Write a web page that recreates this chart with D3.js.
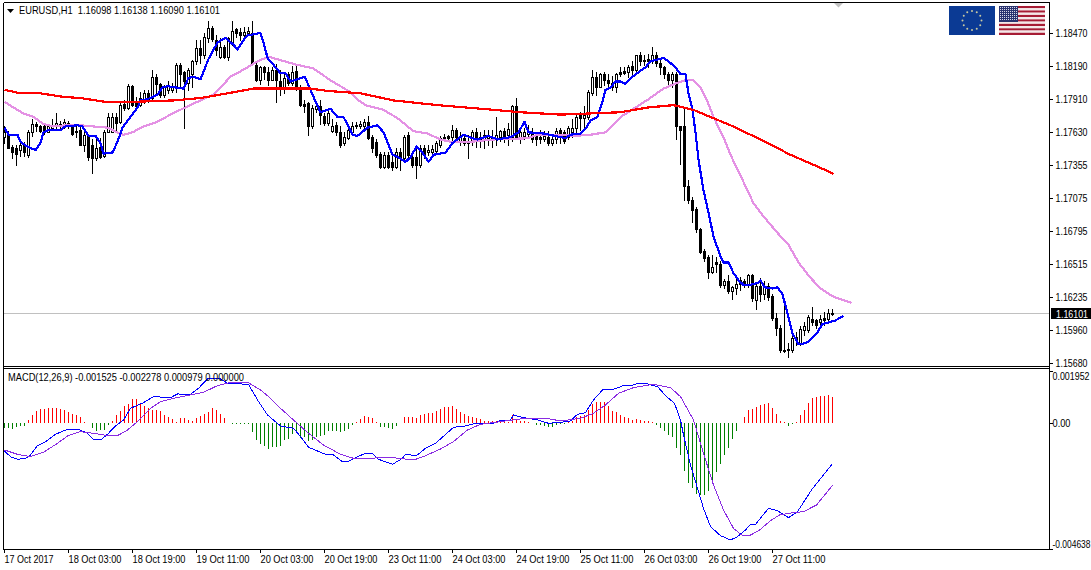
<!DOCTYPE html>
<html><head><meta charset="utf-8">
<script src="https://cdn.jsdelivr.net/npm/d3@7/dist/d3.min.js"></script>
<style>
html,body{margin:0;padding:0;background:#fff;overflow:hidden}
svg{display:block}
text{font-family:"Liberation Sans",sans-serif;font-size:10.5px;fill:#000;white-space:pre}
</style></head><body><svg id="c" width="1091" height="570"></svg>
<script>
// prices are given in pips (price = pips / 10000)
const opens=[11759,11761,11751,11750,11748,11752,11744,11763,11770,11768,
11768,11763,11767,11769,11768,11768,11768,11768,11764,11765,
11752,11761,11752,11741,11751,11743,11763,11763,11776,11772,
11787,11784,11802,11788,11786,11790,11796,11792,11810,11804,
11795,11799,11799,11801,11820,11814,11805,11812,11823,11834,
11828,11843,11851,11841,11827,11835,11827,11839,11850,11848,
11845,11847,11847,11820,11807,11818,11814,11807,11816,11806,
11801,11812,11805,11815,11800,11787,11788,11768,11783,11785,
11777,11771,11764,11769,11763,11754,11758,11763,11768,11768,
11768,11772,11759,11755,11745,11734,11744,11738,11734,11746,
11741,11761,11742,11742,11735,11750,11746,11746,11747,11752,
11758,11760,11759,11765,11755,11758,11755,11756,11763,11756,
11757,11758,11757,11758,11759,11764,11761,11759,11785,11759,
11760,11762,11762,11761,11759,11757,11759,11754,11757,11765,
11763,11759,11763,11767,11778,11775,11776,11796,11810,11801,
11812,11807,11801,11801,11814,11815,11814,11819,11816,11828,
11824,11825,11824,11828,11822,11818,11812,11807,11812,11768,
11768,11718,11706,11698,11681,11663,11658,11645,11653,11652,
11634,11637,11629,11631,11635,11637,11634,11642,11621,11633,
11626,11633,11625,11606,11598,11579,11579,11579,11588,11584,
11596,11596,11605,11604,11603,11606,11605,11609.8];
const highs=[11768,11764,11752,11752,11755,11755,11765,11774,11772,11769,
11771,11770,11774,11779,11773,11774,11773,11770,11768,11768,
11767,11762,11757,11758,11758,11765,11779,11779,11779,11788,
11790,11804,11803,11793,11797,11799,11799,11816,11812,11805,
11803,11806,11805,11822,11822,11815,11817,11824,11841,11841,
11847,11857,11853,11845,11843,11837,11844,11857,11851,11851,
11852,11852,11857,11822,11819,11819,11818,11818,11821,11816,
11814,11814,11819,11819,11803,11790,11789,11786,11786,11790,
11779,11782,11774,11772,11768,11763,11767,11772,11772,11773,
11774,11777,11761,11757,11746,11746,11746,11746,11750,11750,
11761,11763,11744,11752,11752,11752,11752,11752,11756,11760,
11762,11761,11769,11767,11763,11762,11761,11765,11767,11763,
11765,11765,11765,11776,11765,11767,11771,11786,11792,11765,
11767,11769,11767,11763,11765,11764,11764,11762,11767,11767,
11765,11768,11774,11779,11780,11785,11799,11816,11814,11813,
11814,11812,11811,11813,11818,11818,11820,11823,11828,11831,
11828,11829,11835,11831,11826,11819,11814,11814,11814,11768,
11784,11723,11708,11700,11682,11664,11659,11659,11658,11654,
11639,11642,11633,11639,11641,11639,11643,11643,11636,11640,
11637,11636,11626,11610,11600,11623,11585,11592,11594,11599,
11603,11609,11615,11605,11609,11611,11614,11613.8];
const lows=[11754,11750,11741,11735,11743,11743,11742,11760,11764,11763,
11762,11763,11765,11767,11766,11767,11767,11761,11759,11752,
11747,11740,11729,11740,11741,11742,11763,11763,11763,11771,
11782,11783,11785,11782,11785,11788,11789,11791,11795,11793,
11793,11796,11797,11797,11801,11767,11799,11801,11821,11822,
11826,11839,11840,11828,11826,11826,11824,11837,11844,11841,
11841,11845,11820,11806,11804,11808,11803,11807,11789,11795,
11796,11803,11803,11799,11785,11780,11761,11767,11780,11770,
11769,11769,11763,11761,11751,11752,11757,11761,11767,11767,
11766,11757,11746,11742,11733,11733,11733,11731,11733,11731,
11740,11741,11734,11724,11734,11741,11744,11744,11746,11751,
11757,11757,11756,11755,11752,11752,11741,11752,11751,11751,
11750,11752,11751,11752,11756,11755,11752,11756,11758,11754,
11757,11760,11755,11752,11754,11756,11752,11752,11754,11754,
11754,11757,11759,11761,11765,11767,11774,11795,11795,11801,
11803,11801,11799,11797,11811,11812,11810,11812,11814,11820,
11820,11818,11822,11819,11812,11809,11801,11801,11757,11736,
11706,11703,11687,11679,11661,11654,11640,11644,11645,11632,
11631,11627,11622,11626,11630,11632,11632,11620,11614,11620,
11622,11621,11604,11592,11577,11577,11573,11577,11583,11583,
11592,11594,11600,11598,11599,11600,11603,11609];
const closes=[11763,11750,11746,11745,11752,11746,11763,11770,11768,11764,
11763,11768,11769,11771,11770,11772,11771,11762,11763,11752,
11761,11742,11741,11750,11742,11763,11776,11776,11771,11786,
11784,11802,11786,11785,11792,11796,11791,11810,11804,11795,
11801,11803,11802,11820,11812,11806,11816,11823,11834,11828,
11844,11851,11842,11833,11835,11827,11843,11849,11847,11845,
11848,11849,11822,11807,11818,11814,11807,11816,11807,11801,
11809,11805,11814,11801,11786,11785,11768,11784,11785,11778,
11771,11779,11768,11763,11752,11759,11765,11768,11769,11770,
11772,11758,11750,11744,11734,11744,11734,11734,11746,11741,
11759,11744,11735,11735,11750,11744,11748,11749,11754,11758,
11759,11758,11765,11759,11760,11754,11754,11763,11756,11759,
11761,11761,11759,11761,11764,11759,11766,11785,11759,11763,
11763,11764,11757,11757,11757,11760,11754,11757,11764,11761,
11756,11767,11767,11776,11775,11778,11797,11810,11801,11812,
11807,11805,11805,11812,11812,11813,11818,11816,11828,11823,
11823,11823,11828,11822,11818,11812,11807,11812,11768,11765,
11718,11706,11697,11681,11662,11657,11645,11649,11652,11634,
11637,11629,11632,11635,11638,11634,11642,11623,11633,11626,
11632,11624,11606,11598,11579,11578,11580,11589,11590,11597,
11599,11607,11603,11600,11605,11604,11610,11610.1];

// moving averages: bar position (may run past the last bar: forward shift) and value in pips
const blueBars=[0,1,3.25,4,5.75,7.75,9,9.75,11,14,15.25,18.25,19.5,21,22.75,24,24.75,27,28.25,29.5,31,33.25,34,35.75,38.25,39.5,40.75,44.75,46,47.25,49,51,53.25,55.25,57.25,58.25,59.75,60.75,64,64.75,65.75,69,70.25,71.5,73.25,75,76,77.25,79,81.5,83.25,84.75,87,88.25,90.75,93.25,94.75,97,98.5,100.25,101.5,103,104.5,106,107.25,110.25,112,114.75,117,118.25,121,123.25,126.5,128.5,130,131,134.75,139,140.25,141.5,144,145.25,146.5,148.25,149.5,150.25,151.5,152.75,154,155.25,157,159,160.25,161.5,164.75,166,167.75,169,170.25,171,172,172.75,173.5,174.75,176,177.25,179,179.75,181,182.25,183.5,184.75,186.5,188.5,189,190,192,193.25,194.5,195.75,197,198.5,199.5,201,203.25,204.5,205.75,207.75,209.75];
const blueVals=[11767,11761,11761,11755,11751,11748,11754,11763,11765,11765,11768,11769,11768,11760,11760,11754,11745,11746,11755,11767,11774,11784,11790,11791,11795,11801,11802,11800,11809,11810,11808,11825,11839,11843,11837,11833,11841,11845,11847,11839,11826,11813,11813,11806,11808,11810,11803,11793,11780,11783,11776,11776,11761,11760,11767,11769,11763,11744,11742,11738,11742,11751,11746,11738,11744,11746,11754,11761,11758,11757,11760,11757,11759,11763,11772,11763,11762,11759,11758,11761,11762,11766,11773,11776,11789,11799,11801,11806,11806,11804,11810,11815,11818,11823,11826,11823,11818,11812,11812,11796,11782,11763,11740,11714,11695,11675,11658,11653,11653,11644,11638,11634,11634,11636,11638,11632,11631,11632,11626,11610,11593,11584,11584,11586,11594,11601,11602,11604,11608];
const plumBars=[0,2.25,4.75,7.25,9.75,12.25,15.75,19,22.25,25.75,28.25,29.75,32,34.75,38.25,41.5,45.75,49,52.25,54,56.5,59.75,63.25,66,69,73.25,77.25,81.5,86.5,88.5,90.25,94.75,98.25,102.25,105.75,109,111.5,116.5,122.25,130.75,133.25,139,142.25,146.5,150.25,152,154.5,157.75,161,164.75,168.25,170.25,172.25,174,175.75,177.25,179.75,181.5,185.75,187.25,189.75,193.25,196,198.5,201.5,204,207.25,211.75];
const plumVals=[11789,11784,11779,11776,11770,11768,11769,11769,11768,11767,11763,11761,11763,11768,11772,11778,11785,11790,11795,11801,11810,11816,11823,11827,11824,11820,11817,11807,11797,11790,11786,11782,11775,11764,11762,11757,11755,11755,11757,11758,11761,11761,11760,11761,11763,11769,11777,11784,11791,11800,11805,11807,11807,11801,11789,11776,11759,11744,11714,11703,11692,11678,11668,11653,11640,11631,11624,11619];
const redBars=[0,4,9,14.75,19,24.75,34,42.25,49,55.75,62.25,69,76.5,80.75,89,97.25,108.25,119,129,139,146.5,154,160.75,167.25,172.25,176.5,181.5,189,196.5,204,207.25];
const redVals=[11799,11796,11796,11793,11792,11789,11789,11790,11792,11796,11800,11800,11800,11798,11796,11790,11786,11783,11780,11778,11779,11780,11784,11786,11782,11776,11769,11757,11744,11733,11728];

// MACD, in millionths
const histogram=[-185,-185,-222,-148,-111,-111,111,296,444,518,518,555,555,555,518,481,407,333,296,222,37,0,-185,-296,-259,-259,-74,74,296,444,629,703,888,888,703,629,555,481,481,444,296,222,148,37,185,185,111,74,185,259,333,407,555,481,333,185,0,-37,-37,-37,-37,-37,-333,-629,-777,-851,-962,-888,-888,
-851,-629,-592,-407,-370,-555,-518,-666,-629,-518,-481,-444,-296,-296,-296,-333,-296,-222,-74,37,148,259,222,185,37,-148,-148,-185,-222,-111,0,222,222,222,185,296,333,370,370,444,518,592,592,629,518,407,333,259,222,185,148,74,74,74,74,111,74,37,296,148,74,74,37,0,-74,-74,-111,-148,-148,-74,
-37,-37,37,74,222,259,296,481,703,777,777,777,629,444,407,296,222,185,111,148,111,74,74,37,-74,-185,-296,-444,-518,-925,-1184,-1776,-2220,-2405,-2627,-2664,-2664,-2516,-2183,-1813,-1517,-1184,-925,-592,-296,0,222,481,518,592,666,703,740,555,333,74,37,-111,-37,37,296,481,740,925,962,999,999,1036,979];
const macdBars=[0,1.5,3.25,5.25,6.5,8.25,10.25,12.75,15.75,18.5,20.75,22.25,24,25.75,27.75,29.75,31.5,34.75,37.25,41.5,43.25,46.5,48.5,50.75,54,55.75,61,63.25,65.75,69,72.25,74,76,78.25,80.25,82,84.5,85.75,87.75,90.25,92,93.5,97,99.5,100.25,103,105.25,107.75,112.25,115.25,117.75,122.25,124,126.5,127.25,129.75,133.25,136,139,141.5,143.25,145.25,147.25,149.5,152.25,154.5,157.25,158.5,160.75,163.25,165.5,167.5,169,169.75,171.5,173.25,174.75,176.5,179,181.5,183.25,185.25,186.5,187.75,191,193.25,196,198.25,201.75,206.75,207];
const macdVals=[-1017,-1227,-1325,-1288,-1165,-820,-672,-400,-215,-215,-363,-585,-610,-400,-92,130,562,771,993,956,1092,1079,1301,1647,1647,1486,1449,870,315,-92,-178,-486,-881,-1017,-1140,-1140,-1411,-1411,-1263,-1103,-1103,-1325,-1510,-1288,-1140,-1190,-918,-733,-141,-92,7,7,105,130,315,216,130,7,44,93,340,401,870,1240,1264,1388,1425,1486,1462,1363,993,746,130,-425,-1534,-2397,-3137,-3815,-4148,-4308,-4185,-3939,-3729,-3729,-3137,-3224,-3483,-3260,-2459,-1534,-1525];
const signalBars=[0,3.25,6.5,9.75,13.25,15.75,19,22.25,25.75,28.25,30.75,33.25,36.5,39,42.25,46.5,49.75,53.25,56.5,60.75,64,66.5,69,72.25,76,79.75,84,87.25,91,96.5,102.25,104.75,109,112.25,115.75,119,124,129,135.5,139,144,147.25,150.25,153.5,157.25,162.25,166.5,169,172.25,174.75,177.25,179.75,182.25,184.25,186.25,188.75,191.75,193.75,197.25,199.75,203,206.75,207];
const signalVals=[-980,-1140,-1226,-1066,-733,-462,-302,-363,-450,-450,-240,68,562,808,932,1055,1153,1400,1523,1523,1240,931,562,130,-363,-795,-1140,-1288,-1288,-1251,-1350,-1226,-943,-672,-240,-30,68,167,192,93,192,377,685,1116,1326,1449,1326,993,130,-1103,-2274,-3199,-3877,-4124,-4148,-3939,-3569,-3384,-3298,-3260,-3014,-2336,-2278];

// axes
const priceTicks=[1.1847,1.1819,1.1791,1.1763,1.17355,1.17075,1.16795,1.16515,1.16235,1.1596,1.1568];
const macdTicks=[0.001952,0,-0.004638];
const macdTickLabels=["0.001952","0.00","-0.004638"];
const timeTickBars=[0,16,32,48,64,80,96,112,128,144,160,176,192];
const timeTickLabels=["17 Oct 2017","18 Oct 03:00","18 Oct 19:00","19 Oct 11:00","20 Oct 03:00","20 Oct 19:00","23 Oct 11:00","24 Oct 03:00","24 Oct 19:00","25 Oct 11:00","26 Oct 03:00","26 Oct 19:00","27 Oct 11:00"];
const lastPrice=1.16101;
const chartTitle="EURUSD,H1  1.16098 1.16138 1.16090 1.16101";
const macdTitle="MACD(12,26,9) -0.001525 -0.002278 0.000979 0.000000";

const svg=d3.select("#c");
const x=d3.scaleLinear().domain([0,207]).range([4,832]);
const y=d3.scaleLinear().domain([1.1568,1.1847]).range([363,33]);
const ym=d3.scaleLinear().domain([-0.004638,0.001952]).range([548.9,370.7]);
const px=p=>y(p/1e4);
const crisp=v=>Math.round(v)+.5;
// squeeze a text horizontally to the width it has in the reference font
const fit=(sel,w)=>sel.attr("textLength",w).attr("lengthAdjust","spacingAndGlyphs");

// current price line (behind the candles)
svg.append("line").attr("x1",4).attr("x2",1049).attr("y1",Math.floor(y(lastPrice))+.5).attr("y2",Math.floor(y(lastPrice))+.5)
  .attr("stroke","#c0c0c0").attr("stroke-width",1).attr("shape-rendering","crispEdges");

// candles
const bars=d3.range(opens.length);
const g=svg.append("g").attr("shape-rendering","crispEdges");
g.selectAll(".wick").data(bars).join("line")
  .attr("x1",i=>x(i)+.5).attr("x2",i=>x(i)+.5)
  .attr("y1",i=>Math.round(px(highs[i]))).attr("y2",i=>Math.round(px(lows[i]))+1)
  .attr("stroke","#000");
g.selectAll(".body").data(bars).join("rect")
  .attr("x",i=>x(i)-.5).attr("width",2)
  .attr("y",i=>crisp(px(Math.max(opens[i],closes[i]))))
  .attr("height",i=>Math.max(0,crisp(px(Math.min(opens[i],closes[i])))-crisp(px(Math.max(opens[i],closes[i])))))
  .attr("fill",i=>closes[i]>opens[i]?"#fff":"#000").attr("stroke","#000");

// moving averages
function maLine(bs,vs,color,w,sy){
  const ln=d3.line().x((d,i)=>x(bs[i])+.5).y(d=>sy(d));
  svg.append("path").datum(vs).attr("d",ln).attr("fill","none").attr("stroke",color)
    .attr("stroke-width",w).attr("stroke-linejoin","round").attr("shape-rendering","crispEdges");
}
maLine(plumBars,plumVals,"#e491e4",2.2,px);
maLine(blueBars,blueVals,"#0000ff",2.2,px);
maLine(redBars,redVals,"#ff0000",2.2,px);

// MACD
const um=v=>ym(v/1e6);
svg.append("g").attr("shape-rendering","crispEdges").selectAll("rect").data(histogram).join("rect")
  .attr("x",(d,i)=>x(i)).attr("width",1)
  .attr("y",d=>Math.round(d>=0?um(d):um(0)))
  .attr("height",d=>Math.max(d===0?0:1,Math.round(Math.abs(um(d)-um(0)))))
  .attr("fill",d=>d>=0?"#ff0000":"#008000");
maLine(macdBars,macdVals,"#0000ff",1,um);
maLine(signalBars,signalVals,"#8a2be2",1,um);

// frame
const frame=svg.append("g").attr("stroke","#000").attr("shape-rendering","crispEdges");
[[3.5,2.5,1049.5,2.5],[3.5,2.5,3.5,549.5],[1049.5,2.5,1049.5,549.5],[3.5,366.5,1049.5,366.5],[3.5,368.5,1049.5,368.5],[3.5,549.5,1049.5,549.5]]
 .forEach(a=>frame.append("line").attr("x1",a[0]).attr("y1",a[1]).attr("x2",a[2]).attr("y2",a[3]));

// axes
const ax=svg.append("g").attr("transform","translate(1049.5,0)")
  .call(d3.axisRight(y).tickValues(priceTicks).tickFormat(d3.format(".5f")).tickSize(3).tickPadding(3));
ax.select(".domain").remove();
fit(ax.selectAll("text"),32);
const am=svg.append("g").attr("transform","translate(1049.5,0)")
  .call(d3.axisRight(ym).tickValues(macdTicks).tickFormat((d,i)=>macdTickLabels[i]).tickSize(3).tickPadding(0));
am.select(".domain").remove();
am.selectAll("text").attr("dy",(d,i)=>i===0?"0.85em":i===2?"-0.15em":"0.32em")
  .attr("textLength",(d,i)=>[37,18,38][i]).attr("lengthAdjust","spacingAndGlyphs");
const at=svg.append("g").attr("transform","translate(0,549.5)")
  .call(d3.axisBottom(x).tickValues(timeTickBars).tickFormat((d,i)=>timeTickLabels[i]).tickSize(3).tickPadding(1));
at.select(".domain").remove();
at.selectAll("text").attr("text-anchor","start").attr("x",0).attr("dy","0.95em")
  .attr("textLength",(d,i)=>i===0?49:53).attr("lengthAdjust","spacingAndGlyphs");
svg.selectAll(".tick text").attr("fill","#000");
svg.selectAll(".tick line").attr("stroke","#000").attr("shape-rendering","crispEdges");
svg.selectAll(".tick").attr("font-family",null).attr("font-size",null);

// last price tag
svg.append("rect").attr("x",1051).attr("y",308).attr("width",40).attr("height",11).attr("fill","#000");
fit(svg.append("text").attr("x",1056).attr("y",317.5).style("fill","#fff").text(lastPrice.toFixed(5)),32);

// titles
svg.append("path").attr("d","M7,9H14L10.5,13Z").attr("fill","#000");
fit(svg.append("text").attr("x",19).attr("y",14).text(chartTitle),201);
fit(svg.append("text").attr("x",8).attr("y",381).text(macdTitle),236);
svg.append("path").attr("d","M834,3H843L838.5,7.5Z").attr("fill","#c0c0c0");

// flags
const eu=svg.append("g");
eu.append("rect").attr("x",949).attr("y",6).attr("width",46).attr("height",29).attr("fill","#0b3a94");
eu.selectAll("circle").data(d3.range(12)).join("circle")
  .attr("cx",i=>972+9.5*Math.cos(i*Math.PI/6)).attr("cy",i=>20.5+9.5*Math.sin(i*Math.PI/6))
  .attr("r",1).attr("fill","#c9c9a0");
const us=svg.append("g");
us.selectAll("rect").data(d3.range(13)).join("rect").attr("x",999).attr("width",46)
  .attr("y",i=>6+i*29/13).attr("height",29/13).attr("fill",i=>i%2?"#f4e8e8":"#a61c34");
us.append("rect").attr("x",999).attr("y",6).attr("width",19).attr("height",16).attr("fill","#2a3470");
for(let r=0;r<7;r++)for(let c=0;c<9;c++)
  us.append("rect").attr("x",1000+c*2).attr("y",7+r*2).attr("width",1).attr("height",1).attr("fill","#d8d8e8");
</script></body></html>
